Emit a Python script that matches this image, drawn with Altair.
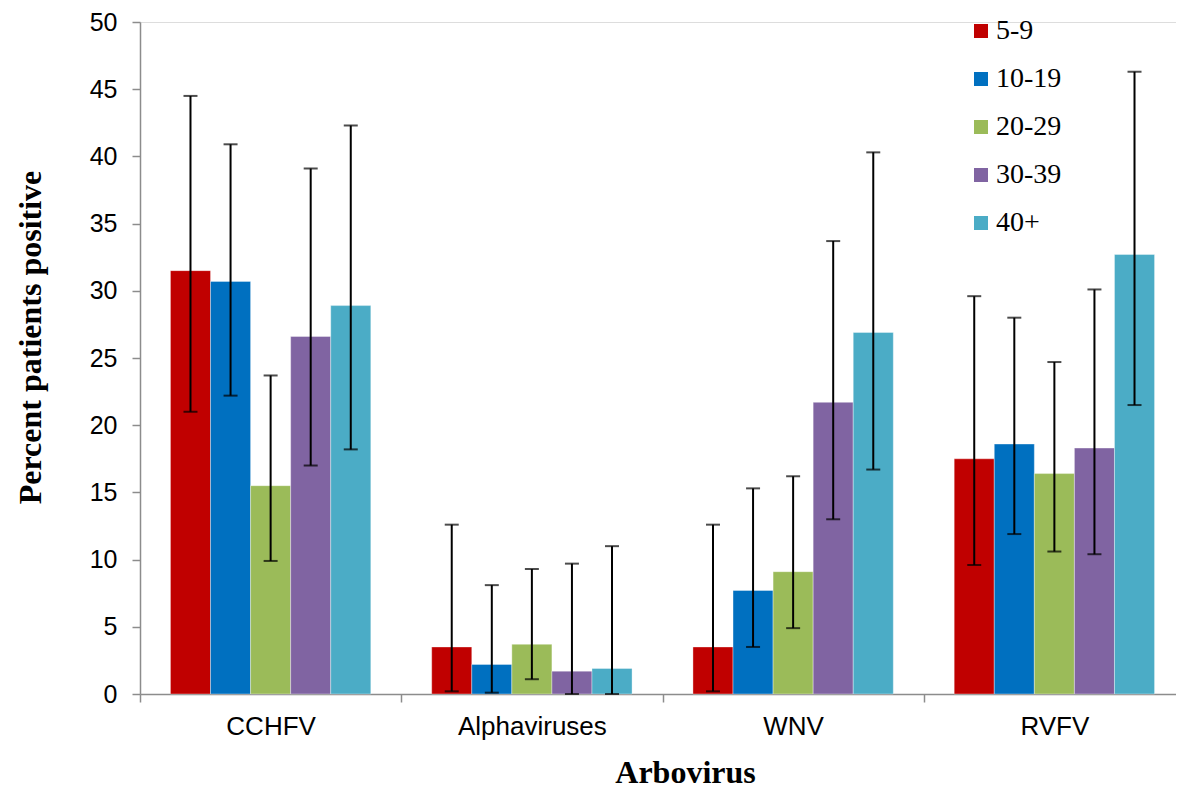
import altair as alt
import pandas as pd

viruses = ["CCHFV", "Alphaviruses", "WNV", "RVFV"]
ages = ["5-9", "10-19", "20-29", "30-39", "40+"]
colors = ["#C00000", "#0070C0", "#9BBB59", "#8064A2", "#4BACC6"]

# percent positive, per virus, per age group (order of ages)
cchfv = [31.5, 30.7, 15.5, 26.6, 28.9]
alpha = [3.5, 2.2, 3.7, 1.7, 1.9]
wnv = [3.5, 7.7, 9.1, 21.7, 26.9]
rvfv = [17.5, 18.6, 16.4, 18.3, 32.7]

cchfv_lo = [21.0, 22.2, 9.9, 17.0, 18.2]
cchfv_hi = [44.5, 40.9, 23.7, 39.1, 42.3]
alpha_lo = [0.2, 0.1, 1.1, 0.0, 0.0]
alpha_hi = [12.6, 8.1, 9.3, 9.7, 11.0]
wnv_lo = [0.2, 3.5, 4.9, 13.0, 16.7]
wnv_hi = [12.6, 15.3, 16.2, 33.7, 40.3]
rvfv_lo = [9.6, 11.9, 10.6, 10.4, 21.5]
rvfv_hi = [29.6, 28.0, 24.7, 30.1, 46.3]

vals = [cchfv, alpha, wnv, rvfv]
los = [cchfv_lo, alpha_lo, wnv_lo, rvfv_lo]
his = [cchfv_hi, alpha_hi, wnv_hi, rvfv_hi]

rows = []
for vi, v in enumerate(viruses):
    for ai, a in enumerate(ages):
        rows.append({"virus": v, "age": a, "value": vals[vi][ai],
                     "lo": los[vi][ai], "hi": his[vi][ai]})
df = pd.DataFrame(rows)

x_scale = alt.Scale(paddingInner=0, paddingOuter=0, range=[0, 1045])
x_enc = alt.X("virus:N", sort=viruses, scale=x_scale,
              axis=alt.Axis(title="Arbovirus", labelAngle=0, tickBand="extent",
                            tickSize=8, tickColor="#8c8c8c", domainColor="#8c8c8c",
                            tickWidth=1.5, domainWidth=1.5,
                            labelFont="Liberation Sans", labelFontSize=26,
                            labelColor="#000000", labelPadding=11,
                            titleFont="Liberation Serif", titleFontSize=32,
                            titleFontWeight="bold", titleColor="#000000",
                            titlePadding=18, titleX=545))
xo = alt.XOffset("age:N", sort=ages, scale=alt.Scale(paddingInner=0, paddingOuter=0.76))
y_scale = alt.Scale(domain=[0, 50], nice=False)

base = alt.Chart(df)

bars = base.mark_bar(stroke="white", strokeWidth=0.6, strokeOpacity=0.6).encode(
    x=x_enc,
    xOffset=xo,
    y=alt.Y("value:Q", scale=y_scale,
            axis=alt.Axis(title="Percent patients positive", values=list(range(0, 51, 5)),
                          grid=False, tickSize=8, tickColor="#8c8c8c", tickWidth=1.5,
                          domainColor="#8c8c8c", domainWidth=1.5,
                          labelFont="Liberation Sans",
                          labelFontSize=25, labelColor="#000000", labelPadding=15,
                          titleFont="Liberation Serif", titleFontSize=32,
                          titleFontWeight="bold", titleColor="#000000",
                          titlePadding=42, titleY=315)),
    color=alt.Color("age:N", sort=ages,
                    scale=alt.Scale(domain=ages, range=colors),
                    legend=alt.Legend(title=None, orient="none", legendX=827, legendY=-5,
                                      symbolType="square", symbolSize=196,
                                      symbolStrokeWidth=0, labelFont="Liberation Serif",
                                      labelFontSize=28, labelColor="#000000",
                                      rowPadding=20, labelOffset=1, padding=0)),
)

rules = base.mark_rule(color="black", strokeWidth=2).encode(
    x=alt.X("virus:N", sort=viruses, scale=x_scale), xOffset=xo,
    y=alt.Y("lo:Q", scale=y_scale), y2="hi:Q")

cap_lo = base.mark_tick(color="black", thickness=2, size=14, orient="horizontal").encode(
    x=alt.X("virus:N", sort=viruses, scale=x_scale), xOffset=xo,
    y=alt.Y("lo:Q", scale=y_scale))
cap_hi = base.mark_tick(color="black", thickness=2, size=14, orient="horizontal").encode(
    x=alt.X("virus:N", sort=viruses, scale=x_scale), xOffset=xo,
    y=alt.Y("hi:Q", scale=y_scale))

chart = alt.layer(bars, rules, cap_lo, cap_hi).properties(
    width=1036, height=672,
    autosize=alt.AutoSizeParams(type="none"),
    padding={"left": 132, "top": 14, "right": 0, "bottom": 98},
).configure_view(stroke=None, strokeWidth=0).configure_axis(grid=False).configure(background="white")

chart.save("out.html", embed_options={"renderer": "svg", "actions": False})
